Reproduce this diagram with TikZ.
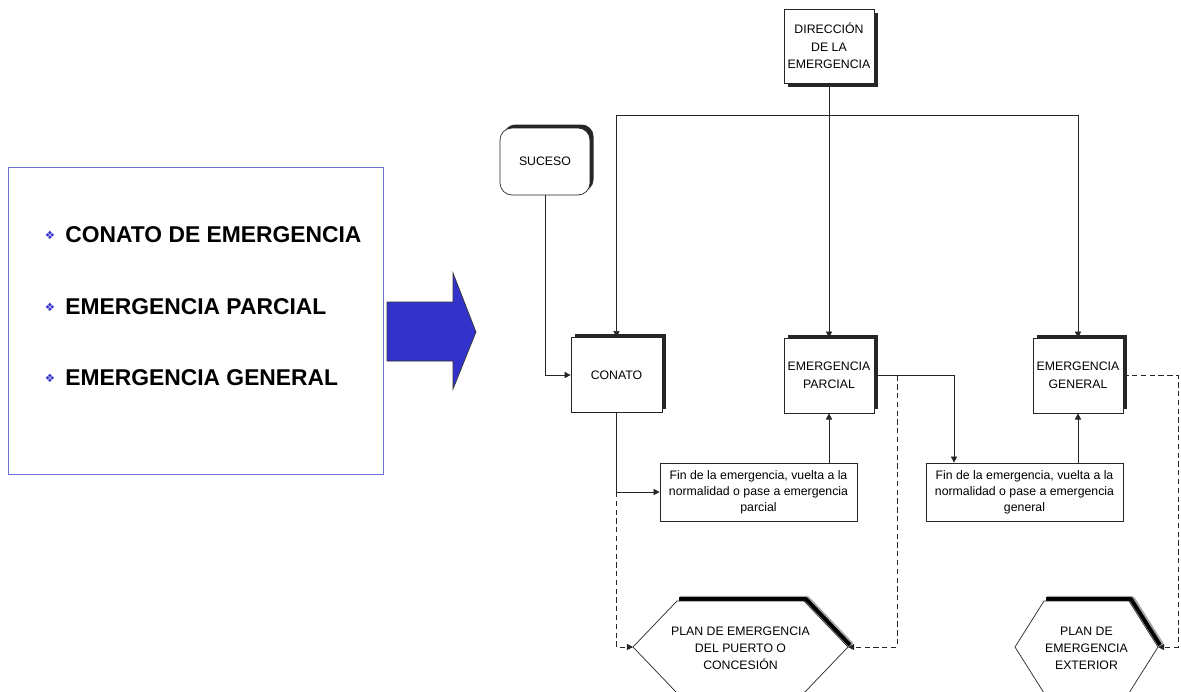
\documentclass[tikz,border=0pt]{standalone}
\usepackage{fontspec}
\setmainfont{Liberation Sans}
\newfontfamily\symfont{DejaVu Sans}
\usepackage{tikz}
\usetikzlibrary{shapes,arrows.meta,calc,shadows}
\definecolor{arrowblue}{RGB}{51,51,204}
\definecolor{frameblue}{RGB}{112,112,214}
\tikzstyle{box}=[draw=black!85, fill=white, minimum width=1.8cm, minimum height=1.5cm, align=center, inner sep=0pt, font=\fontsize{7}{10}\selectfont]
\tikzstyle{shadowup}=[drop shadow={shadow xshift=2pt, shadow yshift=2pt, fill=black, opacity=0.85}]
\tikzstyle{shadowdown}=[drop shadow={shadow xshift=2pt, shadow yshift=-2pt, fill=black, opacity=0.85}]
\tikzstyle{finbox}=[draw=black!85, fill=white, minimum width=3.94cm, minimum height=1.16cm, align=center, inner sep=0pt, font=\fontsize{7}{9.1}\selectfont]
\tikzstyle{plantext}=[align=center, inner sep=0pt, font=\fontsize{7}{9.6}\selectfont]
\tikzstyle{item}=[anchor=west, inner sep=0pt, font=\fontsize{13}{15}\selectfont\bfseries]
\tikzstyle{arr}=[draw=black!85, -{Triangle[length=3.5pt,width=3.5pt]}]
\tikzstyle{dsh}=[arr, dash pattern=on 3pt off 2pt]
\newcommand{\hexH}{46}
\newcommand{\hexcoordinates}[5]{
\coordinate (#1) at (#2,#3);
\coordinate (#1w) at (#2-#4,#3);
\coordinate (#1e) at (#2+#4,#3);
\coordinate (#1nw) at (#2-#4+#5,#3-\hexH);
\coordinate (#1ne) at (#2+#4-#5,#3-\hexH);
\coordinate (#1sw) at (#2-#4+#5,#3+\hexH);
\coordinate (#1se) at (#2+#4-#5,#3+\hexH);
}
\begin{document}
\begin{tikzpicture}[x=0.02cm,y=-0.02cm]
\useasboundingbox (0,0) rectangle (1181,691);
\draw[frameblue] (8,167) rectangle (383,474);
\foreach \y/\t [count=\n] in {235/CONATO DE EMERGENCIA,307/EMERGENCIA PARCIAL,378/EMERGENCIA GENERAL} {
	\node[text=arrowblue, inner sep=0pt, font=\symfont\fontsize{6.5}{6.5}\selectfont] (b\n) at (50,\y) {❖};
	\node[item] (i\n) at (65,\y) {\t};
}
\draw[fill=arrowblue, draw=black!80] (387,302) -- (453,302) -- (453,273) -- (476,332) -- (453,389) -- (453,361) -- (387,361) -- cycle;
\node[box, shadowdown, minimum height=1.48cm] (dir) at (829,46) {DIRECCIÓN\\DE LA\\EMERGENCIA};
\node[box, shadowup, minimum height=1.34cm, rounded corners=0.24cm] (suceso) at (545,161.5) {SUCESO};
\node[box, shadowup, minimum width=1.82cm] (conato) at (616.5,375) {CONATO};
\node[box, shadowup] (parcial) at (829,375.5) {EMERGENCIA\\PARCIAL};
\node[box, shadowup] (general) at (1078,375.5) {EMERGENCIA\\GENERAL};
\node[finbox] (fin1) at (758.5,492) {Fin de la emergencia, vuelta a la\\normalidad o pase a emergencia\\parcial};
\node[finbox] (fin2) at (1024.5,492) {Fin de la emergencia, vuelta a la\\normalidad o pase a emergencia\\general};
\hexcoordinates{h1}{740.5}{647}{107.5}{44}
\hexcoordinates{h2}{1086.5}{647}{71.5}{29}
\foreach \h in {h1,h2} {
	\draw[black!35, line width=3.5pt, line join=round] ($(\h nw)+(3,-2)$) -- ($(\h ne)+(3,-2)$) -- ($(\h e)+(3,-2)$);
	\draw[black, line width=2.2pt, line join=round] ($(\h nw)+(2,-2)$) -- ($(\h ne)+(2,-2)$) -- ($(\h e)+(2,-2)$);
	\draw[draw=black!85, fill=white] (\h w) -- (\h nw) -- (\h ne) -- (\h e) -- (\h se) -- (\h sw) -- cycle;
}
\node[plantext] (plan1) at ($(h1)+(0,1)$) {PLAN DE EMERGENCIA\\DEL PUERTO O\\CONCESIÓN};
\node[plantext] (plan2) at ($(h2)+(0,1)$) {PLAN DE\\EMERGENCIA\\EXTERIOR};
\coordinate (bar) at (829,115);
\coordinate (f2in) at (954,0);
\coordinate (pdash) at (897,0);
\coordinate (gdash) at (1178,0);
\draw[arr] (dir.south) -- (parcial.north);
\draw[arr] (bar -| conato) -- (conato.north);
\draw[arr] (bar -| conato) -- (bar -| general) -- (general.north);
\draw[arr] (suceso.south) |- (conato.west);
\draw[arr] (conato.south) |- (fin1.west);
\draw[arr] (fin1.north -| parcial) -- (parcial.south);
\draw[arr] (parcial.east) -| (fin2.north -| f2in);
\draw[arr] (fin2.north -| general) -- (general.south);
\draw[dsh] (conato.south |- fin1.west) |- (h1w);
\draw[dsh] (parcial.east -| pdash) |- (h1e);
\draw[dsh] (general.east) -| (gdash |- h2e) -- (h2e);
\end{tikzpicture}
\end{document}
